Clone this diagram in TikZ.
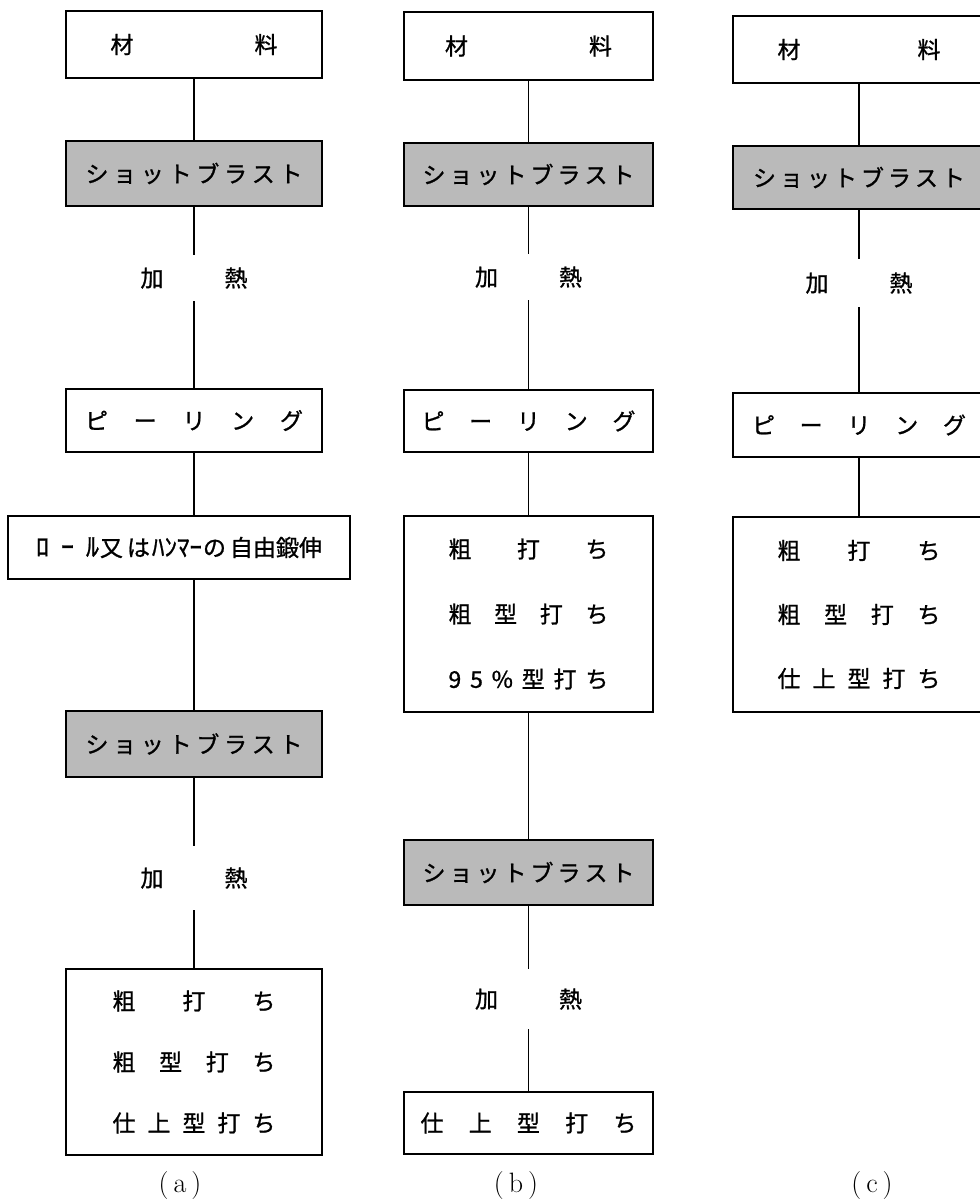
\documentclass[tikz,border=0pt]{standalone}
\usepackage{fontspec}
\newfontfamily\jp[FakeBold=1]{Noto Sans CJK JP}
\newcommand{\spr}[2]{\makebox[#1pt][s]{#2}}
\begin{document}
\begin{tikzpicture}[x=1pt,y=-1pt,
  jpfont/.style={font=\jp\fontsize{23}{61}\selectfont},
  box/.style={draw, line width=1.3pt, inner sep=0pt, jpfont, align=center},
  shotbox/.style={box, fill=black!27},
  heat/.style={inner sep=0pt, jpfont, minimum width=120pt},
  link/.style={line width=1.7pt},
  caption/.style={inner sep=0pt, font=\fontsize{28}{28}\selectfont}]
\useasboundingbox[fill=white] (0,0) rectangle (980,1200);

% ---------------- column (a)
\node[box, minimum width=256pt, minimum height=67pt] (a1) at (194,44.5) {\spr{167}{材\hfil 料}};
\node[shotbox, minimum width=256pt, minimum height=65pt] (a2) at (194,173.5) {\spr{217}{シ\hfil ョ\hfil ッ\hfil ト\hfil ブ\hfil ラ\hfil ス\hfil ト}};
\node[heat, minimum height=46pt] (a3) at (194,278) {\spr{107}{加\hfil 熱}};
\node[box, minimum width=256pt, minimum height=63pt] (a4) at (194,420.5) {\spr{218}{ピ\hfil ー\hfil リ\hfil ン\hfil グ}};
\node[box, minimum width=342pt, minimum height=63pt] (a5) at (179,547.5) {{\fontsize{26}{26}\selectfont ﾛ\hspace{12pt}ｰ\hspace{12pt}ﾙ}\hspace{1pt}又\hspace{4pt}は\hspace{2pt}{\fontsize{25}{25}\selectfont ﾊﾝﾏｰ}\hspace{1pt}の\hspace{4pt}自由鍛伸};
\node[shotbox, minimum width=256pt, minimum height=66pt] (a6) at (194,744) {\spr{217}{シ\hfil ョ\hfil ッ\hfil ト\hfil ブ\hfil ラ\hfil ス\hfil ト}};
\node[heat, minimum height=64pt] (a7) at (194,878) {\spr{107}{加\hfil 熱}};
\node[box, minimum width=256pt, minimum height=186pt] (a8) at (194,1062) {\spr{163}{粗\hfil 打\hfil ち}\\ \spr{163}{粗\hfil 型\hfil 打\hfil ち}\\ \spr{163}{仕\hfil 上\hfil 型\hfil 打\hfil ち}};
\node[caption] (la) at (180,1185) {(\hspace{5pt}a\hspace{5pt})};

\draw[link] (a1) -- (a2);
\draw[link] (a2) -- (a3);
\draw[link] (a3) -- (a4);
\draw[link] (a4.south) -- (a4.south |- a5.north);
\draw[link] (a4.south |- a5.south) -- (a6.north);
\draw[link] (a6) -- (a7);
\draw[link] (a7) -- (a8);

% ---------------- column (b)
\node[box, minimum width=249pt, minimum height=68pt] (b1) at (528.5,46) {\spr{167}{材\hfil 料}};
\node[shotbox, minimum width=249pt, minimum height=63pt] (b2) at (528.5,174.5) {\spr{212}{シ\hfil ョ\hfil ッ\hfil ト\hfil ブ\hfil ラ\hfil ス\hfil ト}};
\node[heat, minimum height=46pt] (b3) at (528.5,277) {\spr{107}{加\hfil 熱}};
\node[box, minimum width=249pt, minimum height=62pt] (b4) at (528.5,421) {\spr{214}{ピ\hfil ー\hfil リ\hfil ン\hfil グ}};
\node[box, minimum width=249pt, minimum height=196pt] (b5) at (528.5,614) {\spr{160}{粗\hfil 打\hfil ち}\\[4pt] \spr{160}{粗\hfil 型\hfil 打\hfil ち}\\[4pt] \spr{160}{9\hfil 5\hfil \%\hfil 型\hfil 打\hfil ち}};
\node[shotbox, minimum width=249pt, minimum height=65pt] (b6) at (528.5,872.5) {\spr{212}{シ\hfil ョ\hfil ッ\hfil ト\hfil ブ\hfil ラ\hfil ス\hfil ト}};
\node[heat, minimum height=60pt] (b7) at (528.5,999) {\spr{107}{加\hfil 熱}};
\node[box, minimum width=249pt, minimum height=62pt] (b8) at (528.5,1123) {\spr{216}{仕\hfil 上\hfil 型\hfil 打\hfil ち}};
\node[caption] (lb) at (516,1185) {(\hspace{5pt}b\hspace{5pt})};

\draw[link] (b1) -- (b2);
\draw[link] (b2) -- (b3);
\draw[link] (b3) -- (b4);
\draw[link] (b4) -- (b5);
\draw[link] (b5) -- (b6);
\draw[link] (b6) -- (b7);
\draw[link] (b7) -- (b8);

% ---------------- column (c)
\node[box, minimum width=252pt, minimum height=67pt] (c1) at (859,49.5) {\spr{163}{材\hfil 料}};
\node[shotbox, minimum width=252pt, minimum height=63pt] (c2) at (859,177.5) {\spr{212}{シ\hfil ョ\hfil ッ\hfil ト\hfil ブ\hfil ラ\hfil ス\hfil ト}};
\node[heat, minimum height=48pt] (c3) at (859,283) {\spr{107}{加\hfil 熱}};
\node[box, minimum width=252pt, minimum height=64pt] (c4) at (859,425) {\spr{214}{ピ\hfil ー\hfil リ\hfil ン\hfil グ}};
\node[box, minimum width=252pt, minimum height=195pt] (c5) at (859,614.5) {\spr{163}{粗\hfil 打\hfil ち}\\[3pt] \spr{163}{粗\hfil 型\hfil 打\hfil ち}\\[3pt] \spr{163}{仕\hfil 上\hfil 型\hfil 打\hfil ち}};
\node[caption] (lc) at (872,1185) {(\hspace{5pt}c\hspace{5pt})};

\draw[link] (c1) -- (c2);
\draw[link] (c2) -- (c3);
\draw[link] (c3) -- (c4);
\draw[link] (c4) -- (c5);
\end{tikzpicture}
\end{document}
